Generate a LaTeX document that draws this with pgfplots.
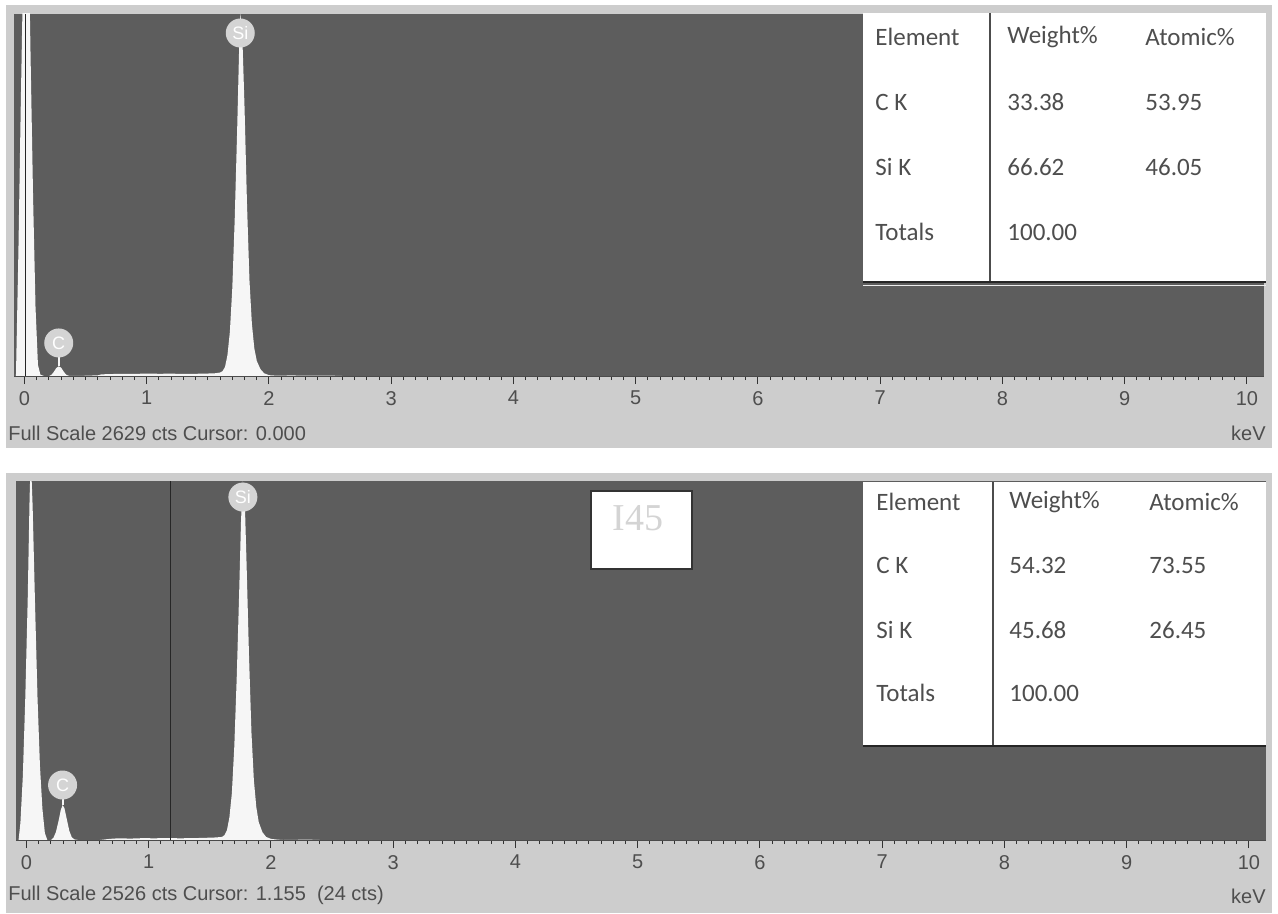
\documentclass[border=0pt]{standalone}
\usepackage{fontspec}
\setmainfont{Liberation Sans}
\newfontfamily\tabfont{Carlito}
\newfontfamily\serfont{Liberation Serif}
\usepackage{pgfplots}
\pgfplotsset{compat=1.18}

\definecolor{plotbg}{RGB}{93,93,93}
\definecolor{framebg}{RGB}{205,205,205}
\definecolor{txt}{RGB}{78,78,78}
\definecolor{peak}{RGB}{246,246,246}
\definecolor{lbl}{RGB}{212,212,212}
\definecolor{sample}{RGB}{212,212,212}

\pgfplotsset{
 eds/.style={
   scale only axis,
   width=625pt,
   anchor=north west,
   xmin=-0.086, xmax=10.14,
   ymin=0,
   axis x line=bottom, axis y line=none,
   axis line style={draw=black!80, -},
   axis background/.style={fill=plotbg},
   xtick={0,...,10},
   minor x tick num=9,
   tick align=outside,
   major tick length=4pt, minor tick length=2pt,
   tick style={black!80, line width=0.5pt},
   xticklabel style={font=\fontsize{10}{12}\selectfont, text=txt},
   /pgf/number format/assume math mode=true,
   clip=true,
 },
}
\tikzset{elbl/.style={circle, fill=lbl, minimum size=14.5pt, inner sep=0pt, text=white, font=\fontsize{9}{10}\selectfont}}

\begin{document}
\begin{tikzpicture}
\path[use as bounding box, fill=white] (0,0) rectangle (639pt,-457pt);
\fill[framebg] (3pt,-2.5pt) rectangle (636pt,-224pt);
\fill[framebg] (3pt,-236.5pt) rectangle (636pt,-456.5pt);

% ---------- top spectrum ----------
\begin{axis}[eds, at={(7pt,-7pt)}, height=181pt, ymax=2629]
\addplot[fill=peak, draw=none] coordinates {
(-0.086,0) (-0.07,0) (-0.05,900) (-0.03,2000) (-0.01,3000) (0.01,3800) (0.03,3400) (0.05,2300) (0.07,1300) (0.09,500) (0.11,80) (0.13,10) (0.16,0)
(0.20,0) (0.22,8) (0.24,30) (0.26,58) (0.28,70) (0.30,60) (0.32,32) (0.34,10) (0.36,2) (0.39,0)
(0.50,2) (0.60,5) (0.63,12) (0.70,14) (0.80,16) (0.90,15) (1.00,18) (1.10,16) (1.20,17) (1.30,15) (1.40,16) (1.50,18) (1.56,20)
(1.60,25) (1.62,35) (1.64,65) (1.66,150) (1.68,320) (1.70,640) (1.72,1150) (1.74,1800) (1.755,2350) (1.765,2629) (1.78,2520) (1.80,1950) (1.82,1250) (1.84,700) (1.86,380) (1.88,200) (1.90,110) (1.93,50) (1.96,20) (2.00,6) (2.05,3) (2.2,4) (2.3,2) (2.5,3) (2.6,0) (10.14,0)
} \closedcycle;
\addplot[black!85, line width=0.6pt] coordinates {(0.01,0) (0.01,2629)};
\draw[peak, line width=1pt] (axis cs:0.28,70) -- (axis cs:0.28,240);
\node[elbl] at (axis cs:0.28,240) {C};
\node[elbl] at (axis cs:1.765,2491) {Si};
\end{axis}

% ---------- bottom spectrum ----------
\begin{axis}[eds, at={(8pt,-240.5pt)}, height=179.5pt, ymax=2526]
\addplot[fill=peak, draw=none] coordinates {
(-0.086,0) (-0.065,0) (-0.05,120) (-0.03,450) (-0.01,1000) (0.01,1700) (0.025,2400) (0.035,2700) (0.05,2350) (0.07,1650) (0.09,1000) (0.11,520) (0.13,220) (0.15,50) (0.17,0)
(0.20,0) (0.22,15) (0.24,55) (0.26,125) (0.28,210) (0.295,246) (0.31,225) (0.33,145) (0.35,65) (0.37,20) (0.39,5) (0.42,0)
(0.6,0) (0.68,8) (0.75,12) (0.85,10) (0.95,13) (1.05,12) (1.15,14) (1.25,12) (1.35,13) (1.45,15) (1.55,18) (1.60,22)
(1.62,35) (1.64,70) (1.66,160) (1.68,330) (1.70,660) (1.72,1150) (1.74,1750) (1.755,2250) (1.77,2526) (1.785,2400) (1.80,1950) (1.82,1300) (1.84,760) (1.86,420) (1.88,230) (1.90,125) (1.93,55) (1.96,22) (2.00,8) (2.05,3) (2.1,0) (2.3,3) (2.4,0) (10.14,0)
} \closedcycle;
\addplot[black!85, line width=0.6pt] coordinates {(1.18,0) (1.18,2526)};
\draw[peak, line width=1pt] (axis cs:0.295,246) -- (axis cs:0.295,387);
\node[elbl] at (axis cs:0.295,387) {C};
\node[elbl] at (axis cs:1.77,2413) {Si};
\end{axis}

% ---------- captions ----------
\node[anchor=west, text=txt, font=\fontsize{10}{12}\selectfont, inner sep=0pt] at (4pt,-216.5pt) {Full Scale 2629 cts Cursor: 0.000};
\node[anchor=east, text=txt, font=\fontsize{10}{12}\selectfont, inner sep=0pt] at (633pt,-216.5pt) {keV};
\node[anchor=west, text=txt, font=\fontsize{10}{12}\selectfont, inner sep=0pt] at (4pt,-447.5pt) {Full Scale 2526 cts Cursor: 1.155\ \ (24 cts)};
\node[anchor=east, text=txt, font=\fontsize{10}{12}\selectfont, inner sep=0pt] at (633pt,-448pt) {keV};

% ---------- top table ----------
\fill[white] (431.5pt,-6.5pt) rectangle (633pt,-140.5pt);
\draw[black!70, line width=0.6pt] (495pt,-6.5pt) -- (495pt,-140.5pt);
\draw[black!85, line width=1pt] (431.5pt,-141pt) -- (633pt,-141pt);
\draw[white!85!gray, line width=0.7pt] (431.5pt,-142.7pt) -- (633pt,-142.7pt);
\begin{scope}[every node/.style={anchor=west, text=txt, inner sep=0pt, font=\tabfont\fontsize{12.5}{14}\selectfont}]
\node at (437.5pt,-18.5pt) {Element};
\node at (503.5pt,-18.5pt) {Weight\%};
\node at (572.5pt,-18.5pt) {Atomic\%};
\node at (437.5pt,-51pt) {C K};
\node at (503.5pt,-51pt) {33.38};
\node at (572.5pt,-51pt) {53.95};
\node at (437.5pt,-83.5pt) {Si K};
\node at (503.5pt,-83.5pt) {66.62};
\node at (572.5pt,-83.5pt) {46.05};
\node at (437.5pt,-116pt) {Totals};
\node at (503.5pt,-116pt) {100.00};
\end{scope}

% ---------- bottom table ----------
\fill[white] (431.5pt,-241pt) rectangle (633pt,-372.5pt);
\draw[black!70, line width=0.6pt] (496.5pt,-241pt) -- (496.5pt,-372.5pt);
\draw[black!85, line width=1.2pt] (431.5pt,-373pt) -- (633pt,-373pt);
\begin{scope}[every node/.style={anchor=west, text=txt, inner sep=0pt, font=\tabfont\fontsize{12.5}{14}\selectfont}]
\node at (438pt,-251pt) {Element};
\node at (504.5pt,-251pt) {Weight\%};
\node at (574.5pt,-251pt) {Atomic\%};
\node at (438pt,-282.5pt) {C K};
\node at (504.5pt,-282.5pt) {54.32};
\node at (574.5pt,-282.5pt) {73.55};
\node at (438pt,-315pt) {Si K};
\node at (504.5pt,-315pt) {45.68};
\node at (574.5pt,-315pt) {26.45};
\node at (438pt,-346.5pt) {Totals};
\node at (504.5pt,-346.5pt) {100.00};
\end{scope}

% ---------- sample label ----------
\draw[black!80, fill=white, line width=0.6pt] (295.5pt,-245.5pt) rectangle (346pt,-284.5pt);
\node[text=sample, font=\serfont\fontsize{19}{20}\selectfont, inner sep=0pt] at (319pt,-259pt) {I45};
\end{tikzpicture}
\end{document}
